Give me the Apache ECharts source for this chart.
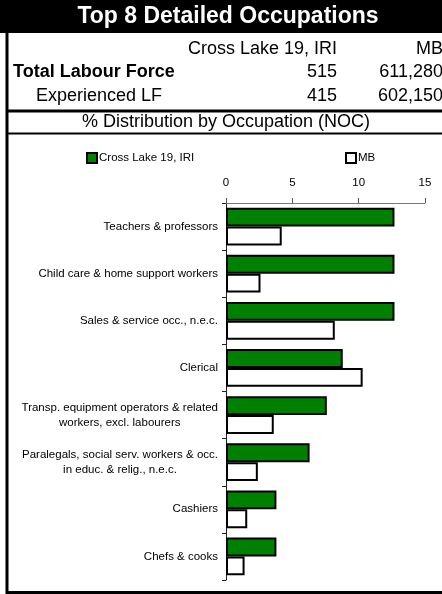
<!DOCTYPE html>
<html lang="en">
<head>
    <meta charset="UTF-8"/>
    <style>
        html, body { margin: 0; padding: 0; background: #fff; }
    </style>
</head>
<body>

<div id="main" style="width: 442px;height:594px;"></div>

<script src="https://cdn.jsdelivr.net/npm/echarts@6/dist/echarts.min.js"></script>
<script type="text/javascript">

    // header table
    var titleText = 'Top 8 Detailed Occupations';
    var headerCols = ['Cross Lake 19, IRI', 'MB'];
    var rowLabels = ['Total Labour Force', 'Experienced LF'];
    var areaCounts = ['515', '415'];
    var mbCounts = ['611,280', '602,150'];
    var subTitle = '% Distribution by Occupation (NOC)';

    // chart data (%)
    var categories = [
        'Teachers & professors',
        'Child care & home support workers',
        'Sales & service occ., n.e.c.',
        'Clerical',
        'Transp. equipment operators & related\nworkers, excl. labourers',
        'Paralegals, social serv. workers & occ.\nin educ. & relig., n.e.c.',
        'Cashiers',
        'Chefs & cooks'
    ];
    var crossLake = [12.7, 12.7, 12.7, 8.8, 7.6, 6.3, 3.8, 3.8];
    var mb = [4.2, 2.6, 8.2, 10.3, 3.6, 2.4, 1.6, 1.4];
    var xTicks = [0, 5, 10, 15];

    DrawEChart(echarts);

    function DrawEChart(echarts) {
        var myChart = echarts.init(document.getElementById('main'));
        var fnt = '"Liberation Sans", Arial, sans-serif';
        var hf = '18px ' + fnt;

        var graphics = [
            {type: 'rect', shape: {x: 0, y: 0, width: 442, height: 33}, style: {fill: '#000'}},
            {type: 'text', x: 228, y: 17, style: {text: titleText, fill: '#fff', font: 'bold 23px ' + fnt, align: 'center', verticalAlign: 'middle'}},
            {type: 'text', x: 337, y: 49, style: {text: headerCols[0], fill: '#000', font: hf, align: 'right', verticalAlign: 'middle'}},
            {type: 'text', x: 443, y: 49, style: {text: headerCols[1], fill: '#000', font: hf, align: 'right', verticalAlign: 'middle'}},
            {type: 'text', x: 226, y: 122, style: {text: subTitle, fill: '#000', font: hf, align: 'center', verticalAlign: 'middle'}},
            // frame lines
            {type: 'line', shape: {x1: 7, y1: 33, x2: 7, y2: 594}, style: {stroke: '#000', lineWidth: 3}},
            {type: 'line', shape: {x1: 7, y1: 111, x2: 442, y2: 111}, style: {stroke: '#000', lineWidth: 3}},
            {type: 'line', shape: {x1: 7, y1: 133.5, x2: 442, y2: 133.5}, style: {stroke: '#000', lineWidth: 2}},
            {type: 'line', shape: {x1: 7, y1: 592.5, x2: 442, y2: 592.5}, style: {stroke: '#000', lineWidth: 3}}
        ];
        var rowY = [72.5, 96];
        var rowX = [13, 36];
        for (var i = 0; i < rowLabels.length; i++) {
            var w = i === 0 ? 'bold ' : '';
            graphics.push({type: 'text', x: rowX[i], y: rowY[i], style: {text: rowLabels[i], fill: '#000', font: w + hf, align: 'left', verticalAlign: 'middle'}});
            graphics.push({type: 'text', x: 337, y: rowY[i], style: {text: areaCounts[i], fill: '#000', font: hf, align: 'right', verticalAlign: 'middle'}});
            graphics.push({type: 'text', x: 443, y: rowY[i], style: {text: mbCounts[i], fill: '#000', font: hf, align: 'right', verticalAlign: 'middle'}});
        }

        var options = {
            animation: false,
            textStyle: {fontFamily: fnt, color: '#000'},
            graphic: graphics,
            legend: [
                {
                    data: ['Cross Lake 19, IRI'],
                    left: 86, top: 152, padding: 0,
                    icon: 'rect',
                    itemWidth: 10, itemHeight: 10,
                    textStyle: {fontSize: 11.5, color: '#000', fontFamily: fnt, padding: [0, 0, 0, -3]}
                },
                {
                    data: ['MB'],
                    left: 345, top: 152, padding: 0,
                    icon: 'rect',
                    itemWidth: 10, itemHeight: 10,
                    textStyle: {fontSize: 11.5, color: '#000', fontFamily: fnt, padding: [0, 0, 0, -3]}
                }
            ],
            grid: {left: 226, right: 17, top: 203, bottom: 14, containLabel: false},
            xAxis: {
                type: 'value',
                position: 'top',
                min: xTicks[0],
                max: xTicks[xTicks.length - 1],
                interval: 5,
                axisLine: {show: true, lineStyle: {color: '#777', width: 1}},
                axisTick: {show: true, length: 5, lineStyle: {color: '#555'}},
                axisLabel: {fontSize: 11.5, color: '#000', margin: 14, fontFamily: fnt},
                splitLine: {show: false}
            },
            yAxis: {
                type: 'category',
                inverse: true,
                data: categories,
                axisLine: {show: true, lineStyle: {color: '#222', width: 1}},
                axisTick: {show: true, length: 4, lineStyle: {color: '#222'}},
                axisLabel: {
                    margin: 8,
                    color: '#000',
                    formatter: function (v) {
                        return v.split('\n').map(function (s) { return '{c|' + s + '}'; }).join('\n');
                    },
                    rich: {
                        c: {align: 'center', fontSize: 11.5, lineHeight: 15, color: '#000', fontFamily: fnt}
                    }
                }
            },
            series: [
                {
                    name: 'Cross Lake 19, IRI',
                    type: 'bar',
                    data: crossLake,
                    barGap: '0%',
                    barCategoryGap: '20%',
                    itemStyle: {color: '#008000', borderColor: '#000', borderWidth: 2}
                },
                {
                    name: 'MB',
                    type: 'bar',
                    data: mb,
                    itemStyle: {color: '#fff', borderColor: '#000', borderWidth: 2}
                }
            ]
        };

        myChart.setOption(options);
    }

</script>

</body>
</html>
